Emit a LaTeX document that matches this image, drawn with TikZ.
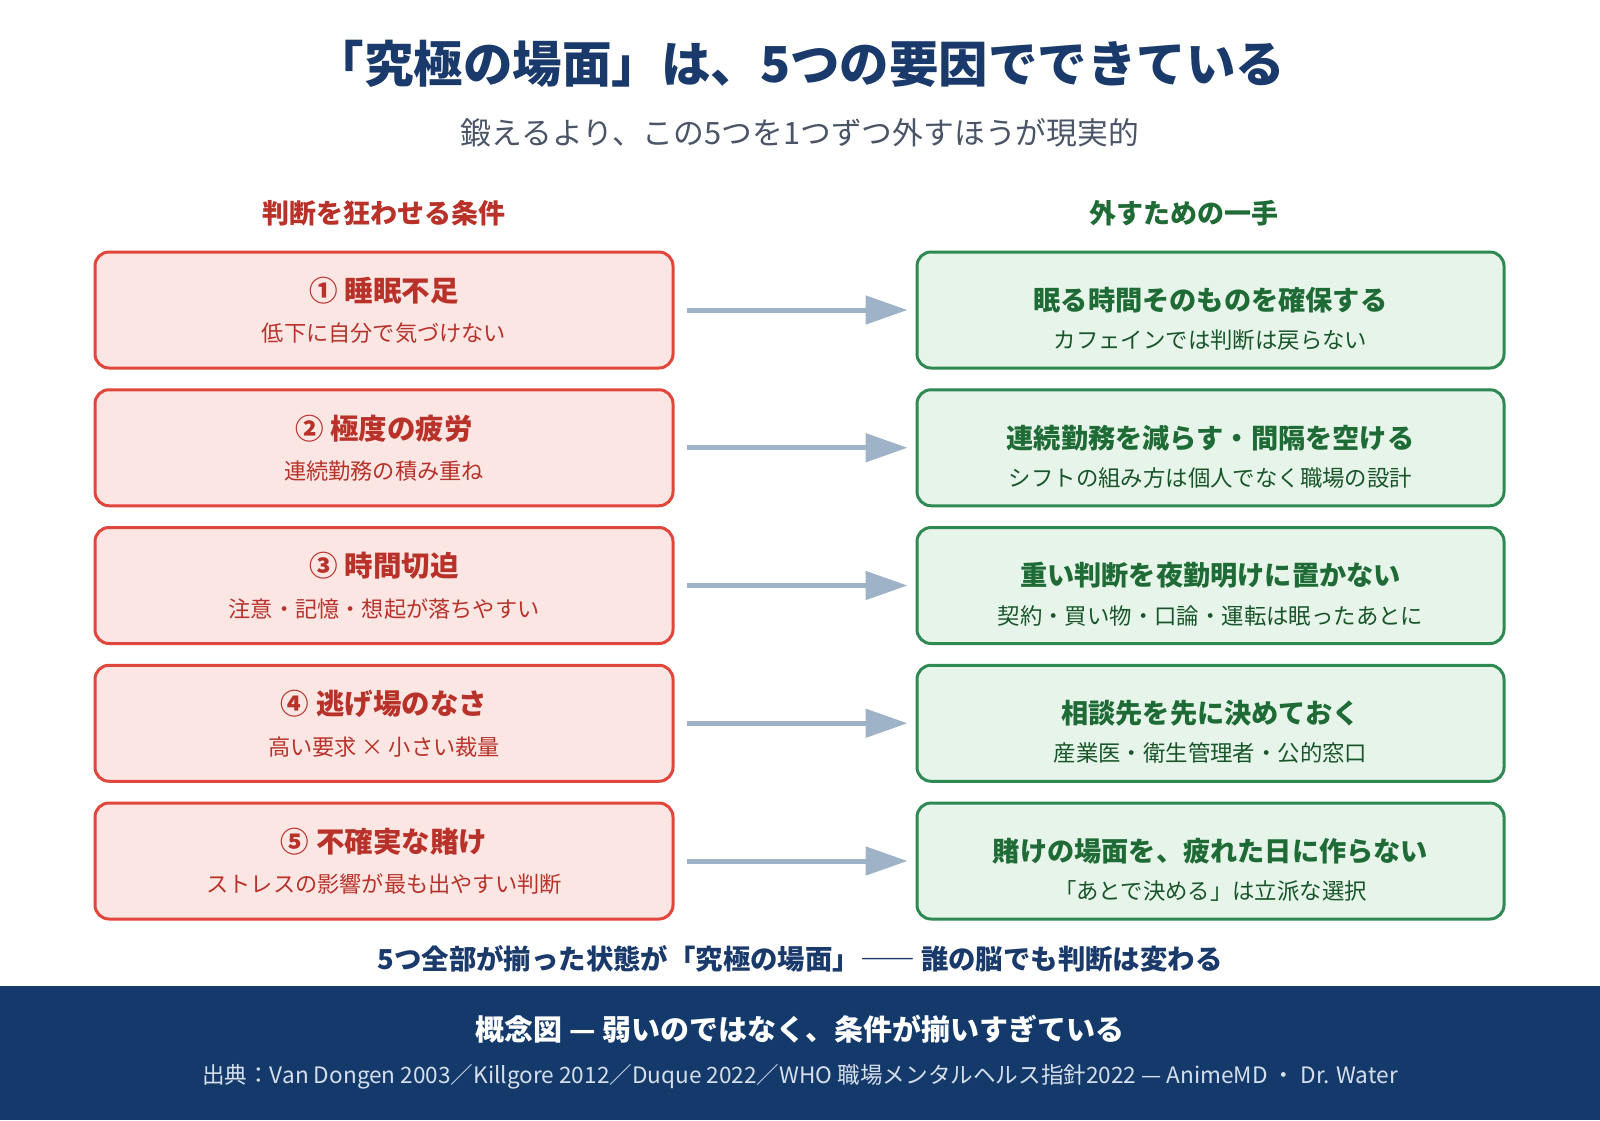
\documentclass[tikz,border=0pt]{standalone}
\usepackage{fontspec}
\setmainfont{Noto Sans CJK JP}
\usetikzlibrary{arrows.meta}
\definecolor{navy}{HTML}{1A3A6B}
\definecolor{band}{HTML}{143A6B}
\definecolor{subgray}{HTML}{4A5568}
\definecolor{redline}{HTML}{E0463B}
\definecolor{redfill}{HTML}{FBE6E4}
\definecolor{redtext}{HTML}{B8322A}
\definecolor{greenline}{HTML}{2E8A52}
\definecolor{greenfill}{HTML}{E7F4EA}
\definecolor{greentext}{HTML}{1E6B35}
\definecolor{arrowc}{HTML}{9FB3C8}
\definecolor{srcc}{HTML}{D6DEEA}
\tikzset{
  condbox/.style={draw=redline, fill=redfill, line width=3pt, rounded corners=14pt,
    minimum width=578pt, minimum height=116pt, inner sep=0pt},
  fixbox/.style={draw=greenline, fill=greenfill, line width=3pt, rounded corners=14pt,
    minimum width=587pt, minimum height=116pt, inner sep=0pt},
  condtitle/.style={text=redtext, font=\fontsize{28.5}{28.5}\selectfont\bfseries, inner sep=0pt},
  condsub/.style={text=redtext, font=\fontsize{22.2}{22.2}\selectfont, inner sep=0pt},
  fixtitle/.style={text=greentext, font=\fontsize{27.2}{27.2}\selectfont\bfseries, inner sep=0pt},
  fixsub/.style={text=greentext!80!black, font=\fontsize{22.4}{22.4}\selectfont, inner sep=0pt},
  link/.style={draw=arrowc, line width=5pt, -{Triangle[length=42pt,width=28pt]}},
}
\begin{document}
\begin{tikzpicture}[x=1pt,y=-1pt]
\useasboundingbox (0,0) rectangle (1600,1120);
\fill[white] (0,0) rectangle (1600,1120);
% footer band
\fill[band] (0,986) rectangle (1600,1120);

\node[text=navy, font=\fontsize{49.5}{49.5}\selectfont\bfseries, inner sep=0pt] (title) at (800,64) {「究極の場面」は、5つの要因でできている};
\node[text=subgray, font=\fontsize{30.8}{30.8}\selectfont, inner sep=0pt] (subtitle) at (800,133) {鍛えるより、この5つを1つずつ外すほうが現実的};

\node[text=redtext, font=\fontsize{27}{27}\selectfont\bfseries, inner sep=0pt] (hl) at (384,213) {判断を狂わせる条件};
\node[text=greentext, font=\fontsize{27}{27}\selectfont\bfseries, inner sep=0pt] (hr) at (1184,213) {外すための一手};

\foreach \i/\ct/\cs/\ft/\fsub in {
  1/{① 睡眠不足}/{低下に自分で気づけない}/{眠る時間そのものを確保する}/{カフェインでは判断は戻らない},
  2/{② 極度の疲労}/{連続勤務の積み重ね}/{連続勤務を減らす・間隔を空ける}/{シフトの組み方は個人でなく職場の設計},
  3/{③ 時間切迫}/{注意・記憶・想起が落ちやすい}/{重い判断を夜勤明けに置かない}/{契約・買い物・口論・運転は眠ったあとに},
  4/{④ 逃げ場のなさ}/{高い要求 × 小さい裁量}/{相談先を先に決めておく}/{産業医・衛生管理者・公的窓口},
  5/{⑤ 不確実な賭け}/{ストレスの影響が最も出やすい判断}/{賭けの場面を、疲れた日に作らない}/{「あとで決める」は立派な選択}}{
  \pgfmathsetmacro{\yy}{310+137.75*(\i-1)}
  \node[condbox] (L\i) at (384,\yy) {};
  \node[fixbox] (R\i) at (1210.5,\yy) {};
  \node[condtitle] (LT\i) at ([yshift=19.5]L\i.center) {\ct};
  \node[condsub] (LS\i) at ([yshift=-23.5]L\i.center) {\cs};
  \node[fixtitle] (RT\i) at ([yshift=10]R\i.center) {\ft};
  \node[fixsub] (RS\i) at ([yshift=-30]R\i.center) {\fsub};
  \draw[link] ([xshift=12]L\i.east) -- ([xshift=-8]R\i.west);
}

\node[text=navy, font=\fontsize{27.4}{27.4}\selectfont\bfseries, inner sep=0pt] (concl) at (800,959) {5つ全部が揃った状態が「究極の場面」―― 誰の脳でも判断は変わる};

\node[text=white, font=\fontsize{29}{29}\selectfont\bfseries, inner sep=0pt] (foot) at (800,1029) {概念図 — 弱いのではなく、条件が揃いすぎている};
\node[text=srcc, font=\fontsize{22.6}{22.6}\selectfont, inner sep=0pt] (src) at (800,1077) {出典：Van Dongen 2003／Killgore 2012／Duque 2022／WHO 職場メンタルヘルス指針2022 — AnimeMD ・ Dr. Water};
\end{tikzpicture}
\end{document}
